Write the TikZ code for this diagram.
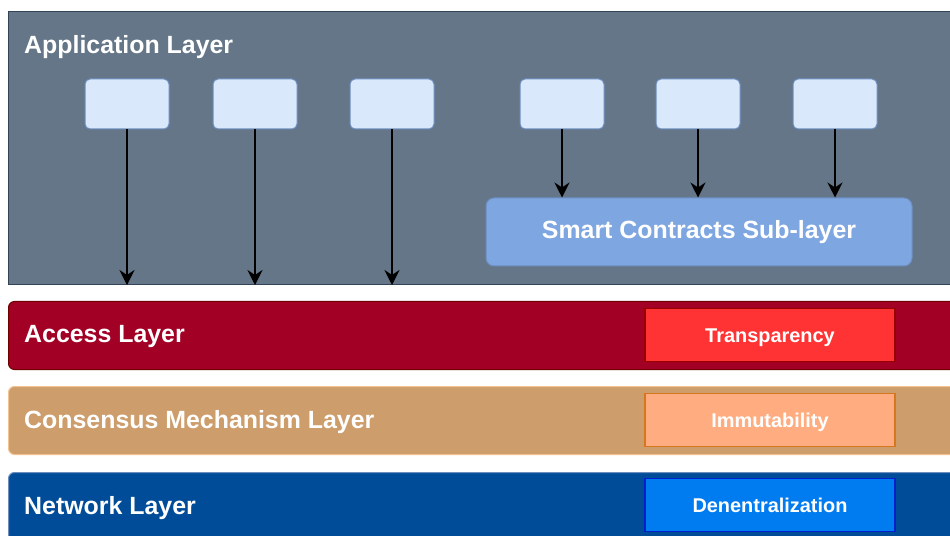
\documentclass[tikz,border=0pt]{standalone}
\usepackage{fontspec}
\setmainfont{Liberation Sans}
\usetikzlibrary{arrows.meta}
\definecolor{appfill}  {HTML}{647687}
\definecolor{appline}  {HTML}{314354}
\definecolor{boxfill}  {HTML}{DAE8FC}
\definecolor{boxline}  {HTML}{6C8EBF}
\definecolor{smartfill}{HTML}{7EA6E0}
\definecolor{accfill}  {HTML}{A20025}
\definecolor{accline}  {HTML}{6F0000}
\definecolor{trfill}   {HTML}{FF3333}
\definecolor{trline}   {HTML}{990000}
\definecolor{consfill} {HTML}{CD9D6B}
\definecolor{consline} {HTML}{F4C28E}
\definecolor{imfill}   {HTML}{FFAD80}
\definecolor{imline}   {HTML}{D6761E}
\definecolor{netfill}  {HTML}{004C99}
\definecolor{netline}  {HTML}{6C8EBF}
\definecolor{defill}   {HTML}{007BF0}
\definecolor{deline}   {HTML}{0020CC}

\begin{document}
\begin{tikzpicture}[x=1bp, y=-1bp,
  every node/.style={text=white, font=\fontsize{25}{30}\selectfont\bfseries},
  layer/.style={draw, line width=1bp, rounded corners=6bp, anchor=north west,
    minimum width=960bp, minimum height=68bp, inner sep=0pt},
  appbox/.style={draw=boxline, fill=boxfill, line width=1bp, rounded corners=5bp,
    minimum width=84bp, minimum height=50bp, inner sep=0pt},
  prop/.style={draw, line width=1.5bp, minimum width=250bp, minimum height=53bp,
    inner sep=0pt, text height=14bp, text depth=0bp,
    font=\fontsize{20}{24}\selectfont\bfseries},
  title/.style={anchor=west, inner sep=0pt},
  flow/.style={line width=1.3bp, -{Stealth[length=15bp,width=15bp,inset=5bp]}},
]
\useasboundingbox (0,0) rectangle (950,536);
\clip (0,0) rectangle (950,536);

% -- application layer --------------------------------------------
\node[layer, rounded corners=0pt, draw=appline, fill=appfill,
  minimum height=273bp] (app) at (8,11) {};
\node[title] (apptitle) at (24,47) {Application Layer};

\foreach \n/\x in {1/127,2/255,3/392,4/562,5/698,6/835}
  \node[appbox] (ab\n) at (\x,104) {};

\node[appbox, fill=smartfill, rounded corners=8bp,
  minimum width=426bp, minimum height=68bp] (smart) at (699,232)
  {Smart Contracts Sub-layer};

% arrows
\foreach \n in {1,2,3}
  \draw[flow] (ab\n) -- (ab\n |- app.south);
\foreach \n in {4,5,6}
  \draw[flow] (ab\n) -- (ab\n |- smart.north);

% -- lower layers -------------------------------------------------
\node[layer, draw=accline, fill=accfill] (acc) at (8,301) {};
\node[title] (acctitle) at (24,337) {Access Layer};
\node[prop, draw=trline, fill=trfill] (tr) at (770,335) {Transparency};

\node[layer, draw=consline, fill=consfill] (cons) at (8,386) {};
\node[title] (constitle) at (24,422) {Consensus Mechanism Layer};
\node[prop, draw=imline, fill=imfill] (im) at (770,420) {Immutability};

\node[layer, draw=netline, fill=netfill] (net) at (8,472) {};
\node[title] (nettitle) at (24,508) {Network Layer};
\node[prop, draw=deline, fill=defill] (de) at (770,505) {Denentralization};

\end{tikzpicture}
\end{document}
